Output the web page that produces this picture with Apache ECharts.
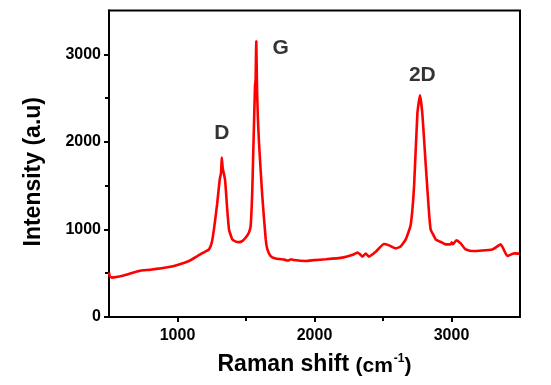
<!DOCTYPE html>
<html>
<head>
<meta charset="utf-8">
<script src="https://cdn.jsdelivr.net/npm/echarts@6/dist/echarts.min.js"></script>
<style>
html,body{margin:0;padding:0;background:#fff;}
#chart{width:551px;height:385px;}
</style>
</head>
<body>
<div id="chart"></div>
<script>
// Raman shift (cm-1)
const ramanShift = [500,505,520,600,719,800,938,1000,1084,1150,1200,1230,1250,1266,1290,1308,1318,1323,1330,1347,1362,1376,1400,1430,1449,1475,1498,1520,1534,1545,1551,1560,1566,1570,1575,1580,1586,1595,1619,1644,1656,1680,1717,1780,1800,1814,1830,1850,1936,2000,2082,2203,2280,2313,2330,2349,2374,2398,2447,2507,2544,2593,2629,2666,2702,2727,2751,2770,2787,2811,2836,2848,2872,2885,2933,2958,2993,3001,3010,3035,3067,3103,3152,3298,3359,3408,3457,3493];
// Intensity (a.u)
const intensity = [510,470,450,470,526,540,571,595,640,700,745,772,850,1000,1300,1568,1650,1821,1700,1568,1250,1000,886,858,855,870,908,960,1037,1400,1760,2300,2650,2700,3150,2650,2300,1985,1378,886,772,696,667,655,645,648,660,650,640,650,659,678,710,735,720,690,724,690,745,833,818,784,805,886,1050,1500,2325,2533,2325,1757,1189,1000,924,886,849,829,829,852,830,875,840,772,753,772,829,697,727,724];

const xLabelValues = [1000, 2000, 3000];
const xMinorValues = [1500, 2500];
const yLabelValues = [0, 1000, 2000, 3000];
const yMinorValues = [500, 1500, 2500];

const peakNames = ['D', 'G', '2D'];
const peakLabelX = [1323, 1753, 2787];
const peakLabelY = [2100, 3071, 2763];

const FONT = 'Liberation Sans, Arial, sans-serif';

const chart = echarts.init(document.getElementById('chart'), null, {renderer: 'canvas'});
chart.setOption({
  animation: false,
  backgroundColor: '#fff',
  grid: {
    left: 109, right: 31, top: 10.5, bottom: 68,
    show: true, borderColor: '#000', borderWidth: 2, backgroundColor: 'transparent'
  },
  xAxis: [{
    type: 'value', min: 500, max: 3500,
    axisLine: {show: true, lineStyle: {color: '#000', width: 2}},
    axisTick: {show: true, customValues: xLabelValues, length: 5, lineStyle: {color: '#000', width: 2}},
    axisLabel: {customValues: xLabelValues, formatter: v => String(v), color: '#000', fontFamily: FONT, fontWeight: 'bold', fontSize: 16, margin: 11},
    splitLine: {show: false},
    name: 'Raman shift {s|(cm}{sup|-1}{s|)}',
    nameLocation: 'middle', nameGap: 36,
    nameTextStyle: {
      color: '#000', fontFamily: FONT, fontWeight: 'bold', fontSize: 23,
      rich: {
        s: {fontFamily: FONT, fontWeight: 'bold', fontSize: 21, color: '#000', padding: [2, 0, 0, 0]},
        sup: {fontFamily: FONT, fontWeight: 'bold', fontSize: 12, color: '#000', padding: [0, 0, 12, 1]}
      }
    }
  }, {
    type: 'value', min: 500, max: 3500, position: 'bottom',
    axisLine: {show: false},
    axisTick: {show: true, customValues: xMinorValues, length: 4, lineStyle: {color: '#000', width: 2}},
    axisLabel: {show: false},
    splitLine: {show: false}
  }],
  yAxis: [{
    type: 'value', min: 0, max: 3500,
    axisLine: {show: true, lineStyle: {color: '#000', width: 2}},
    axisTick: {show: true, customValues: yLabelValues, length: 5, lineStyle: {color: '#000', width: 2}},
    axisLabel: {customValues: yLabelValues, formatter: v => String(v), color: '#000', fontFamily: FONT, fontWeight: 'bold', fontSize: 16, margin: 8},
    splitLine: {show: false},
    name: 'Intensity (a.u)',
    nameLocation: 'middle', nameGap: 64, nameRotate: 90,
    nameTextStyle: {color: '#000', fontFamily: FONT, fontWeight: 'bold', fontSize: 23, padding: [0, 16, 0, 0]}
  }, {
    type: 'value', min: 0, max: 3500, position: 'left',
    axisLine: {show: false},
    axisTick: {show: true, customValues: yMinorValues, length: 4, lineStyle: {color: '#000', width: 2}},
    axisLabel: {show: false},
    splitLine: {show: false}
  }],
  series: [{
    type: 'line',
    xAxisIndex: 0, yAxisIndex: 0,
    data: ramanShift.map((x, i) => [x, intensity[i]]),
    showSymbol: false, symbol: 'none',
    lineStyle: {color: '#ff0000', width: 2.6},
    smooth: 0.15
  }, {
    type: 'scatter',
    xAxisIndex: 0, yAxisIndex: 0,
    symbolSize: 0,
    data: peakNames.map((n, i) => ({name: n, value: [peakLabelX[i], peakLabelY[i]]})),
    label: {
      show: true, position: 'inside', formatter: p => p.name,
      color: '#000', fontFamily: FONT, fontWeight: 'bold', fontSize: 21
    },
    silent: true
  }]
});
</script>
</body>
</html>
